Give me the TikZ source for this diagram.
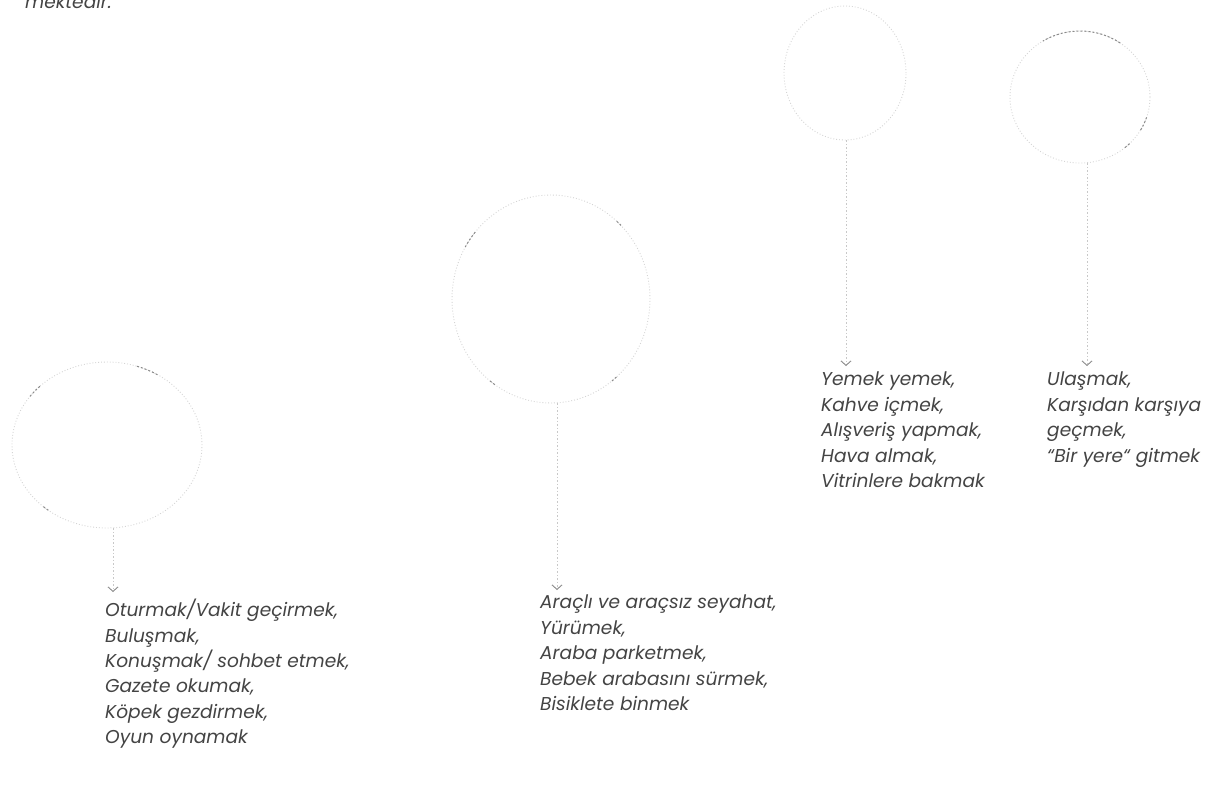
\documentclass[tikz,border=0pt]{standalone}
\usepackage{fontspec}
\setmainfont{Poppins}
\usetikzlibrary{shapes.geometric,arrows.meta}
\definecolor{ringgray}{HTML}{D4D4D4}
\definecolor{linegray}{HTML}{C8C8C8}
\definecolor{tipgray}{HTML}{8A8A8A}
\definecolor{txtgray}{HTML}{444444}
\tikzset{
  ring/.style={draw=ringgray, line width=0.9pt, dotted, ellipse, inner sep=0pt},
  ringmark/.style={draw=tipgray, line width=1pt, dash pattern=on 2pt off 2pt},
  link/.style={draw=linegray, line width=0.9pt, dash pattern=on 1.5pt off 2pt,
    -{Straight Barb[length=4.5pt,width=10pt,line width=0.9pt,color=tipgray]}},
  label/.style={anchor=north west, align=left, inner sep=0pt, text=txtgray,
    font=\fontsize{18.6}{25.4}\selectfont\itshape}
}
\begin{document}
\begin{tikzpicture}[x=1pt,y=-1pt]
\useasboundingbox (0,0) rectangle (1218,807);
\begin{scope}
\clip (0,0) rectangle (1218,807);
\node[label, anchor=base west] (top) at (25,8) {mektedir.};
\end{scope}

% circles
\node[ring, minimum width=190pt, minimum height=166pt] (c1) at (107,445) {};
\node[ring, minimum width=198pt, minimum height=208pt] (c2) at (551,299) {};
\node[ring, minimum width=122pt, minimum height=134pt] (c3) at (845,73) {};
\node[ring, minimum width=140pt, minimum height=132pt] (c4) at (1080,97) {};

% darker arc fragments (canvas angles)
\draw[ringmark] ([shift={(135:95pt and 83pt)}]c1.center) arc[start angle=135, end angle=145, x radius=95pt, y radius=83pt];
\draw[ringmark] ([shift={(58:95pt and 83pt)}]c1.center) arc[start angle=58, end angle=72, x radius=95pt, y radius=83pt];
\draw[ringmark] ([shift={(-132:95pt and 83pt)}]c1.center) arc[start angle=-132, end angle=-128, x radius=95pt, y radius=83pt];
\draw[ringmark] ([shift={(140:99pt and 104pt)}]c2.center) arc[start angle=140, end angle=150, x radius=99pt, y radius=104pt];
\draw[ringmark] ([shift={(45:99pt and 104pt)}]c2.center) arc[start angle=45, end angle=49, x radius=99pt, y radius=104pt];
\draw[ringmark] ([shift={(-128:99pt and 104pt)}]c2.center) arc[start angle=-128, end angle=-124, x radius=99pt, y radius=104pt];
\draw[ringmark] ([shift={(-52:99pt and 104pt)}]c2.center) arc[start angle=-52, end angle=-48, x radius=99pt, y radius=104pt];
\draw[ringmark] ([shift={(55:70pt and 66pt)}]c4.center) arc[start angle=55, end angle=122, x radius=70pt, y radius=66pt];
\draw[ringmark] ([shift={(-30:70pt and 66pt)}]c4.center) arc[start angle=-30, end angle=-18, x radius=70pt, y radius=66pt];
\draw[ringmark] ([shift={(-50:70pt and 66pt)}]c4.center) arc[start angle=-50, end angle=-44, x radius=70pt, y radius=66pt];

% arrow end points
\coordinate (a1) at (113,592);
\coordinate (a2) at (557,590);
\coordinate (a3) at (846,366);
\coordinate (a4) at (1087,366);

\draw[link] (c1.south -| a1) -- (a1);
\draw[link] (c2.south -| a2) -- (a2);
\draw[link] (c3.south -| a3) -- (a3);
\draw[link] (c4.south -| a4) -- (a4);

% texts
\node[label] (t1) at (105,599) {Oturmak/Vakit geçirmek,\\Buluşmak,\\Konuşmak/ sohbet etmek,\\Gazete okumak,\\Köpek gezdirmek,\\Oyun oynamak};
\node[label] (t2) at (540,595) {Araçlı ve araçsız seyahat,\\Yürümek,\\Araba parketmek,\\Bebek arabasını sürmek,\\Bisiklete binmek};
\node[label] (t3) at (821,372) {Yemek yemek,\\Kahve içmek,\\Alışveriş yapmak,\\Hava almak,\\Vitrinlere bakmak};
\node[label] (t4) at (1047,372) {Ulaşmak,\\Karşıdan karşıya\\geçmek,\\“Bir yere“ gitmek};
\end{tikzpicture}
\end{document}
